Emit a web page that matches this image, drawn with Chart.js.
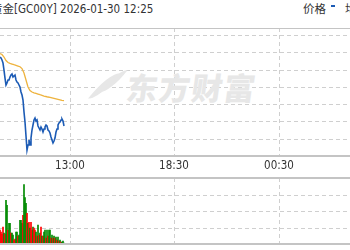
<!DOCTYPE html>
<html>
<head>
<meta charset="utf-8">
<script src="https://cdn.jsdelivr.net/npm/chart.js@4/dist/chart.umd.min.js"></script>
<style>
  html, body { margin: 0; padding: 0; background: #fff; }
  #box { position: relative; width: 350px; height: 250px; overflow: hidden; }
  .txt { position: absolute; white-space: nowrap; color: #333;
         font-family: "Liberation Sans Narrow", "DejaVu Sans Condensed", "Noto Sans CJK SC", sans-serif; font-size: 11.5px; }
  .cjk { font-family: "Noto Sans CJK SC", sans-serif; font-size: 11.5px; }
  #wm { position: absolute; left: 127px; top: 64px; font-family: "Noto Sans CJK SC", sans-serif;
        font-weight: 900; font-size: 31px; color: #e7e7e7; letter-spacing: 1.5px;
        transform: skewX(-8deg); }
  .leaf { position: absolute; background: #e7e7e7; border-radius: 100% 0 100% 0; }
  .gv { position: absolute; width: 1px;
        background: repeating-linear-gradient(to bottom, #cfcfcf 0 4px, transparent 4px 7px); }
  .gh { position: absolute; height: 1px;
        background: repeating-linear-gradient(to right, #cfcfcf 0 4px, transparent 4px 7px); }
  canvas { position: absolute; left: 0; }
</style>
</head>
<body>
<div id="box">
  <div id="grid"></div>
  <div class="leaf" style="left:98px;top:72px;width:12px;height:28px;transform:skewX(-30deg) rotate(12deg);"></div>
  <div class="leaf" style="left:109px;top:69px;width:10px;height:24px;transform:skewX(-30deg) rotate(12deg);"></div>
  <div id="wm">东方财富</div>
  <div class="txt" style="left:-9px;top:0px;"><span class="cjk">黄金</span>[GC00Y] 2026-01-30 12:25</div>
  <div class="txt" style="left:303px;top:0px;"><span class="cjk">价格</span></div>
  <div style="position:absolute;left:331px;top:5px;width:4px;height:2px;background:#1c5bb5;"></div>
  <div class="txt" style="left:345px;top:0px;"><span class="cjk">均价</span></div>
  <canvas id="main" width="350" height="178" style="top:0"></canvas>
  <canvas id="vol" width="350" height="73" style="top:177px"></canvas>
</div>
<script>
// sample index = 3-minute bars since session open
const firstIdx = 64;
const xMin = 64, xMax = 414;
const tickIdx = [134, 238, 343];
const tickLabels = ['13:00', '18:30', '00:30'];

const price = [
  5328.9, 5326.6, 5322.0, 5315.0, 5298.8, 5280.3, 5264.2, 5268.8, 5275.7, 5275.7,
  5282.6, 5287.3, 5289.6, 5282.6, 5285.0, 5287.3, 5275.7, 5271.1, 5268.8, 5264.2,
  5259.5, 5248.0, 5241.0, 5229.5, 5201.7, 5178.6, 5146.2, 5113.9, 5125.4, 5137.0,
  5125.4, 5141.6, 5160.1, 5171.7, 5183.2, 5187.9, 5180.9, 5183.2, 5169.4, 5164.7,
  5160.1, 5167.0, 5162.4, 5155.5, 5162.4, 5167.0, 5171.7, 5169.4, 5160.1, 5157.8,
  5153.2, 5143.9, 5137.0, 5130.1, 5134.7, 5141.6, 5155.5, 5162.4, 5171.7, 5176.3,
  5178.6, 5183.2, 5185.5, 5180.9, 5169.4
];

// average price, one value every 2 bars
const avgPrice = [
  5337.0, 5334.7, 5328.9, 5320.8, 5316.2, 5314.3, 5312.7, 5311.1, 5309.7, 5308.1,
  5306.5, 5302.3, 5291.9, 5275.7, 5259.5, 5251.4, 5248.0, 5246.1, 5245.0, 5243.3,
  5241.7, 5240.3, 5238.7, 5237.6, 5236.4, 5235.7, 5234.6, 5233.4, 5232.2, 5231.1,
  5229.9, 5228.8, 5227.9
];

const volume = [
  1680, 1440, 1200, 2040, 1320, 1200, 5280, 4680, 1680, 2520,
  2520, 1320, 1320, 1080, 480, 600, 1440, 1440, 960, 1080,
  2880, 2880, 2520, 3480, 7200, 5640, 4920, 3720, 2520, 2640,
  1920, 2640, 1680, 2040, 1920, 1680, 1440, 960, 2280, 1080,
  1320, 2040, 960, 960, 1440, 1680, 720, 1680, 960, 1680,
  1680, 720, 1080, 720, 960, 720, 840, 480, 840, 360,
  480, 240, 240, 360, 120
];
// 1 = up (red), -1 = down (green)
const volDir = [
  1, 1, 1, 1, -1, 1, -1, -1, 1, -1,
  -1, 1, -1, -1, 1, 1, -1, -1, 1, -1,
  -1, -1, -1, 1, -1, -1, -1, 1, -1, 1,
  -1, 1, 1, -1, 1, 1, -1, 1, -1, 1,
  -1, 1, -1, 1, -1, -1, 1, -1, 1, -1,
  -1, 1, -1, 1, -1, 1, -1, 1, -1, 1,
  -1, 1, -1, -1, -1
];

const priceTicks = [5100, 5140, 5180, 5220, 5260, 5300, 5340, 5380];
const priceMin = 5100, priceMax = 5396;
const volTicks = [0, 2000, 4000, 6000, 8000];
const volMax = 8000;

// solid top/bottom rules, like the quote page
const frame = {
  id: 'frame',
  afterDraw(chart, args, opts) {
    const {ctx, chartArea} = chart;
    const top = Math.round(chartArea.top), bottom = Math.round(chartArea.bottom);
    ctx.save();
    ctx.fillStyle = opts.color;
    ctx.fillRect(0, top - (opts.top > 1 ? 1 : 0), chart.width, opts.top);
    ctx.fillRect(0, bottom - 1, chart.width, opts.bottom);
    ctx.restore();
  }
};

function xScale(showLabels) {
  return {
    type: 'linear',
    min: xMin,
    max: xMax,
    offset: false,
    afterBuildTicks: (s) => { s.ticks = tickIdx.map(v => ({value: v})); },
    afterFit: (s) => { s.height = showLabels ? 22 : 0; },
    ticks: {
      display: showLabels,
      autoSkip: false,
      maxRotation: 0,
      padding: 3,
      color: '#333',
      font: {family: '"Liberation Sans Narrow", "DejaVu Sans Condensed", sans-serif', size: 11.5},
      callback: (v) => tickLabels[tickIdx.indexOf(v)]
    },
    grid: {display: false, offset: false, drawTicks: false},
    border: {display: false}
  };
}

function yScale(min, max) {
  return {
    min: min,
    max: max,
    afterFit: (s) => { s.width = 0; },
    ticks: {display: false},
    grid: {display: false, drawTicks: false},
    border: {display: false}
  };
}

const mainChart = new Chart(document.querySelector('#main'), {
  type: 'line',
  data: {
    datasets: [
      {
        label: '价格',
        data: price.map((p, i) => ({x: firstIdx + i, y: p})),
        borderColor: '#1c5bb5',
        borderWidth: 1.6,
        pointRadius: 0,
        tension: 0
      },
      {
        label: '均价',
        data: avgPrice.map((p, i) => ({x: firstIdx + i * 2, y: p})),
        borderColor: '#eeb33e',
        borderWidth: 1.3,
        pointRadius: 0,
        tension: 0
      }
    ]
  },
  options: {
    responsive: false,
    animation: false,
    layout: {padding: {top: 28, left: 0, right: 0, bottom: 0}},
    plugins: {
      legend: {display: false},
      tooltip: {enabled: false},
      frame: {color: '#c4c4c4', top: 1, bottom: 2}
    },
    scales: {
      x: xScale(true),
      y: yScale(priceMin, priceMax)
    }
  },
  plugins: [frame]
});

const volChart = new Chart(document.querySelector('#vol'), {
  type: 'bar',
  data: {
    datasets: [{
      label: '成交量',
      data: volume.map((v, i) => ({x: firstIdx + i, y: v})),
      backgroundColor: volDir.map(d => d > 0 ? '#ff0000' : '#008a00'),
      barPercentage: 1,
      categoryPercentage: 1,
      borderWidth: 0
    }]
  },
  options: {
    responsive: false,
    animation: false,
    layout: {padding: {top: 1, left: 0, right: 0, bottom: 6}},
    plugins: {
      legend: {display: false},
      tooltip: {enabled: false},
      frame: {color: '#c4c4c4', top: 2, bottom: 2}
    },
    scales: {
      x: xScale(false),
      y: yScale(0, volMax)
    }
  },
  plugins: [frame]
});

// dashed grid behind the canvases, placed from each chart's own scales
function pixel(scale, v, a, b, lo, hi) {
  const p = scale.getPixelForValue(v);
  return Number.isFinite(p) ? p : a + (v - lo) / (hi - lo) * (b - a);
}

function addGrid(chart, yTicks, yLo, yHi, offsetTop) {
  const grid = document.querySelector('#grid');
  const ca = chart.chartArea;
  tickIdx.forEach(v => {
    const px = Math.round(pixel(chart.scales.x, v, ca.left, ca.right, xMin, xMax));
    const d = document.createElement('div');
    d.className = 'gv';
    d.style.left = px + 'px';
    d.style.top = (offsetTop + ca.top) + 'px';
    d.style.height = (ca.bottom - ca.top) + 'px';
    grid.appendChild(d);
  });
  yTicks.forEach(v => {
    const py = Math.round(pixel(chart.scales.y, v, ca.bottom, ca.top, yLo, yHi));
    const d = document.createElement('div');
    d.className = 'gh';
    d.style.left = ca.left + 'px';
    d.style.top = (offsetTop + py) + 'px';
    d.style.width = (ca.right - ca.left) + 'px';
    grid.appendChild(d);
  });
}

addGrid(mainChart, priceTicks, priceMin, priceMax, 0);
addGrid(volChart, volTicks, 0, volMax, 177);
</script>
</body>
</html>
